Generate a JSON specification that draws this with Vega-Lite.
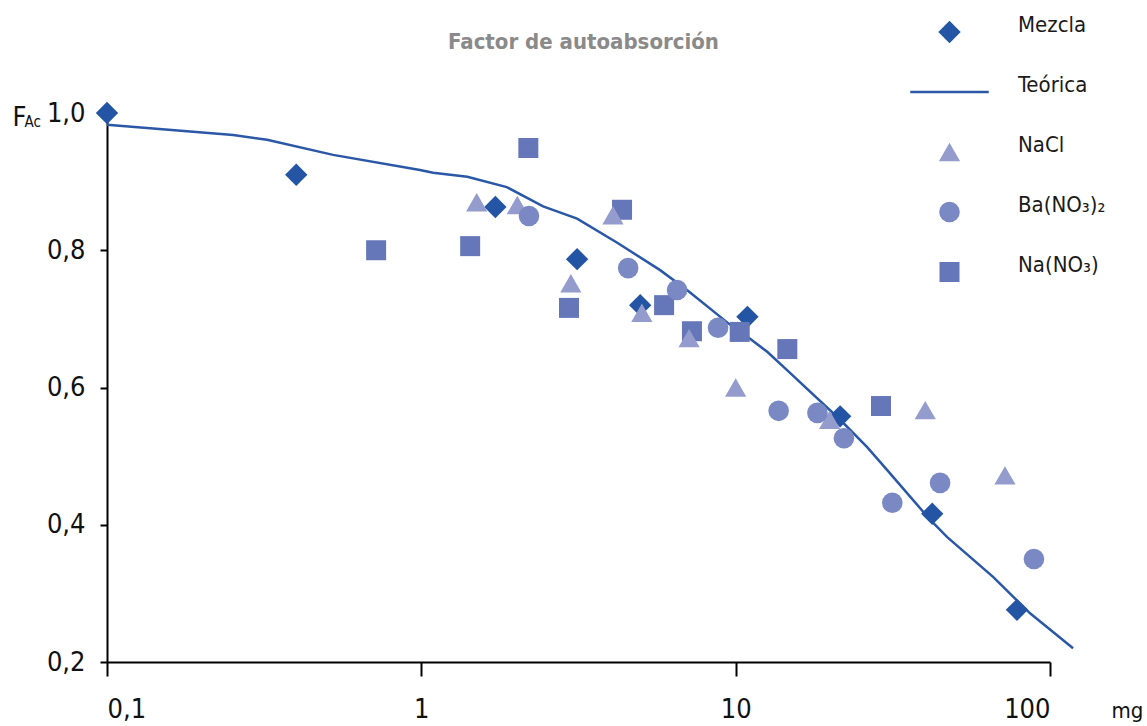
{
  "$schema": "https://vega.github.io/schema/vega-lite/v6.json",
  "width": 943,
  "height": 549,
  "autosize": {"type": "none"},
  "padding": {"left": 107, "top": 113, "right": 97, "bottom": 64},
  "background": "white",
  "config": {"view": {"stroke": null}, "font": "DejaVu Sans Condensed, Liberation Sans, sans-serif"},
  "title": {
    "text": "Factor de autoabsorción",
    "color": "#8a8a8a",
    "fontSize": 22,
    "fontWeight": "bold",
    "font": "DejaVu Sans Condensed, Liberation Sans, sans-serif",
    "anchor": "middle",
    "offset": -44,
    "dx": 5
  },
  "datasets": {
    "pts": [
      {"s": "Mezcla", "x": 0.1, "y": 1.0},
      {"s": "Mezcla", "x": 0.4, "y": 0.91},
      {"s": "Mezcla", "x": 1.72, "y": 0.863},
      {"s": "Mezcla", "x": 3.13, "y": 0.787},
      {"s": "Mezcla", "x": 4.97, "y": 0.72},
      {"s": "Mezcla", "x": 10.9, "y": 0.703},
      {"s": "Mezcla", "x": 21.5, "y": 0.558},
      {"s": "Mezcla", "x": 42.2, "y": 0.416},
      {"s": "Mezcla", "x": 78.5, "y": 0.276},
      {"s": "Na(NO₃)", "x": 0.718, "y": 0.8},
      {"s": "Na(NO₃)", "x": 1.43, "y": 0.806},
      {"s": "Na(NO₃)", "x": 2.19, "y": 0.949},
      {"s": "Na(NO₃)", "x": 2.95, "y": 0.716},
      {"s": "Na(NO₃)", "x": 4.35, "y": 0.859},
      {"s": "Na(NO₃)", "x": 5.92, "y": 0.72},
      {"s": "Na(NO₃)", "x": 7.26, "y": 0.682},
      {"s": "Na(NO₃)", "x": 10.3, "y": 0.681},
      {"s": "Na(NO₃)", "x": 14.6, "y": 0.656},
      {"s": "Na(NO₃)", "x": 29.0, "y": 0.573},
      {"s": "NaCl", "x": 1.5, "y": 0.87},
      {"s": "NaCl", "x": 2.02, "y": 0.866},
      {"s": "NaCl", "x": 4.07, "y": 0.851},
      {"s": "NaCl", "x": 2.99, "y": 0.752},
      {"s": "NaCl", "x": 5.03, "y": 0.709},
      {"s": "NaCl", "x": 7.11, "y": 0.672},
      {"s": "NaCl", "x": 10.0, "y": 0.6},
      {"s": "NaCl", "x": 19.9, "y": 0.553},
      {"s": "NaCl", "x": 40.1, "y": 0.567},
      {"s": "NaCl", "x": 71.9, "y": 0.472},
      {"s": "Ba(NO₃)₂", "x": 2.2, "y": 0.85},
      {"s": "Ba(NO₃)₂", "x": 4.55, "y": 0.774},
      {"s": "Ba(NO₃)₂", "x": 6.51, "y": 0.742},
      {"s": "Ba(NO₃)₂", "x": 8.79, "y": 0.687},
      {"s": "Ba(NO₃)₂", "x": 13.7, "y": 0.566},
      {"s": "Ba(NO₃)₂", "x": 18.2, "y": 0.563},
      {"s": "Ba(NO₃)₂", "x": 22.1, "y": 0.526},
      {"s": "Ba(NO₃)₂", "x": 31.5, "y": 0.432},
      {"s": "Ba(NO₃)₂", "x": 44.7, "y": 0.461},
      {"s": "Ba(NO₃)₂", "x": 88.9, "y": 0.35}
    ],
    "teo": [
      {"x": 0.1, "y": 0.983},
      {"x": 0.252, "y": 0.968},
      {"x": 0.323, "y": 0.961},
      {"x": 0.524, "y": 0.939},
      {"x": 0.99, "y": 0.917},
      {"x": 1.09, "y": 0.913},
      {"x": 1.4, "y": 0.907},
      {"x": 1.87, "y": 0.892},
      {"x": 2.44, "y": 0.864},
      {"x": 3.13, "y": 0.846},
      {"x": 4.2, "y": 0.811},
      {"x": 5.75, "y": 0.771},
      {"x": 7.0, "y": 0.742},
      {"x": 9.81, "y": 0.688},
      {"x": 10.9, "y": 0.674},
      {"x": 12.6, "y": 0.652},
      {"x": 14.6, "y": 0.625},
      {"x": 21.5, "y": 0.553},
      {"x": 26.2, "y": 0.513},
      {"x": 30.3, "y": 0.48},
      {"x": 41.6, "y": 0.407},
      {"x": 47.1, "y": 0.382},
      {"x": 65.9, "y": 0.324},
      {"x": 86.4, "y": 0.271},
      {"x": 118.4, "y": 0.22}
    ]
  },
  "encoding": {
    "x": {
      "field": "x",
      "type": "quantitative",
      "scale": {"type": "log", "domain": [0.1, 100], "nice": false},
      "axis": {
        "values": [0.1, 1, 10, 100],
        "labelExpr": "datum.value < 0.5 ? '0,1' : format(datum.value, 'd')",
        "grid": false,
        "domainColor": "#000",
        "domainWidth": 2,
        "tickColor": "#000",
        "tickWidth": 2,
        "tickSize": 14,
        "labelFontSize": 27,
        "labelColor": "#111",
        "labelPadding": 20,
        "title": "mg",
        "titleFontSize": 22,
        "titleFontWeight": "normal",
        "titleColor": "#111",
        "titleX": 1004,
        "titleY": 55,
        "titleAlign": "left",
        "titleBaseline": "alphabetic"
      }
    }
  },
  "layer": [
    {
      "data": {"name": "teo"},
      "mark": {"type": "line", "color": "#2a58a6", "strokeWidth": 2.5, "clip": false},
      "encoding": {
        "y": {
          "field": "y",
          "type": "quantitative",
          "scale": {"domain": [0.2, 1.0], "nice": false, "zero": false},
          "axis": {
            "values": [0.2, 0.4, 0.6, 0.8, 1.0],
            "labelExpr": "replace(format(datum.value, '.1f'), '.', ',')",
            "grid": false,
            "domainColor": "#000",
            "domainWidth": 2,
            "tickColor": "#000",
            "tickWidth": 2,
            "tickSize": 7,
            "labelFontSize": 27,
            "labelColor": "#111",
            "labelPadding": 15,
            "title": "F",
            "titleFontSize": 27,
            "titleFontWeight": "normal",
            "titleColor": "#111",
            "titleAngle": 0,
            "titleX": -95,
            "titleY": 12,
            "titleAlign": "left",
            "titleBaseline": "alphabetic"
          }
        }
      }
    },
    {
      "data": {"name": "pts"},
      "mark": {"type": "point", "filled": true, "opacity": 1, "strokeWidth": 0},
      "encoding": {
        "y": {
          "field": "y",
          "type": "quantitative",
          "scale": {"domain": [0.2, 1.0], "nice": false, "zero": false},
          "axis": {
            "orient": "right",
            "domain": false,
            "ticks": false,
            "labels": false,
            "grid": false,
            "title": "Ac",
            "titleFontSize": 15,
            "titleFontWeight": "normal",
            "titleColor": "#111",
            "titleAngle": 0,
            "titleX": -1026,
            "titleY": 13,
            "titleAlign": "left",
            "titleBaseline": "alphabetic"
          }
        },
        "color": {
          "field": "s",
          "type": "nominal",
          "scale": {
            "domain": ["Mezcla", "Teórica", "NaCl", "Ba(NO₃)₂", "Na(NO₃)"],
            "range": ["#2455a4", "#2a58a6", "#939ccc", "#7a89c3", "#6577b8"]
          },
          "legend": {
            "title": null,
            "orient": "none",
            "legendX": 791,
            "legendY": -103,
            "padding": 0,
            "labelFontSize": 22,
            "labelColor": "#1a1a1a",
            "symbolOffset": 40,
            "labelOffset": 57,
            "labelBaseline": "alphabetic",
            "clipHeight": 44,
            "rowPadding": 16,
            "symbolOpacity": 1,
            "symbolStrokeWidth": 0
          }
        },
        "shape": {
          "field": "s",
          "type": "nominal",
          "scale": {
            "domain": ["Mezcla", "Teórica", "NaCl", "Ba(NO₃)₂", "Na(NO₃)"],
            "range": ["diamond", "M-3.6,-0.125L3.6,-0.125L3.6,0.125L-3.6,0.125Z", "triangle-up", "circle", "square"]
          }
        },
        "size": {
          "field": "s",
          "type": "nominal",
          "scale": {
            "domain": ["Mezcla", "Teórica", "NaCl", "Ba(NO₃)₂", "Na(NO₃)"],
            "range": [500, 400, 400, 400, 324]
          }
        }
      }
    }
  ],
  "resolve": {"axis": {"y": "independent"}}
}
